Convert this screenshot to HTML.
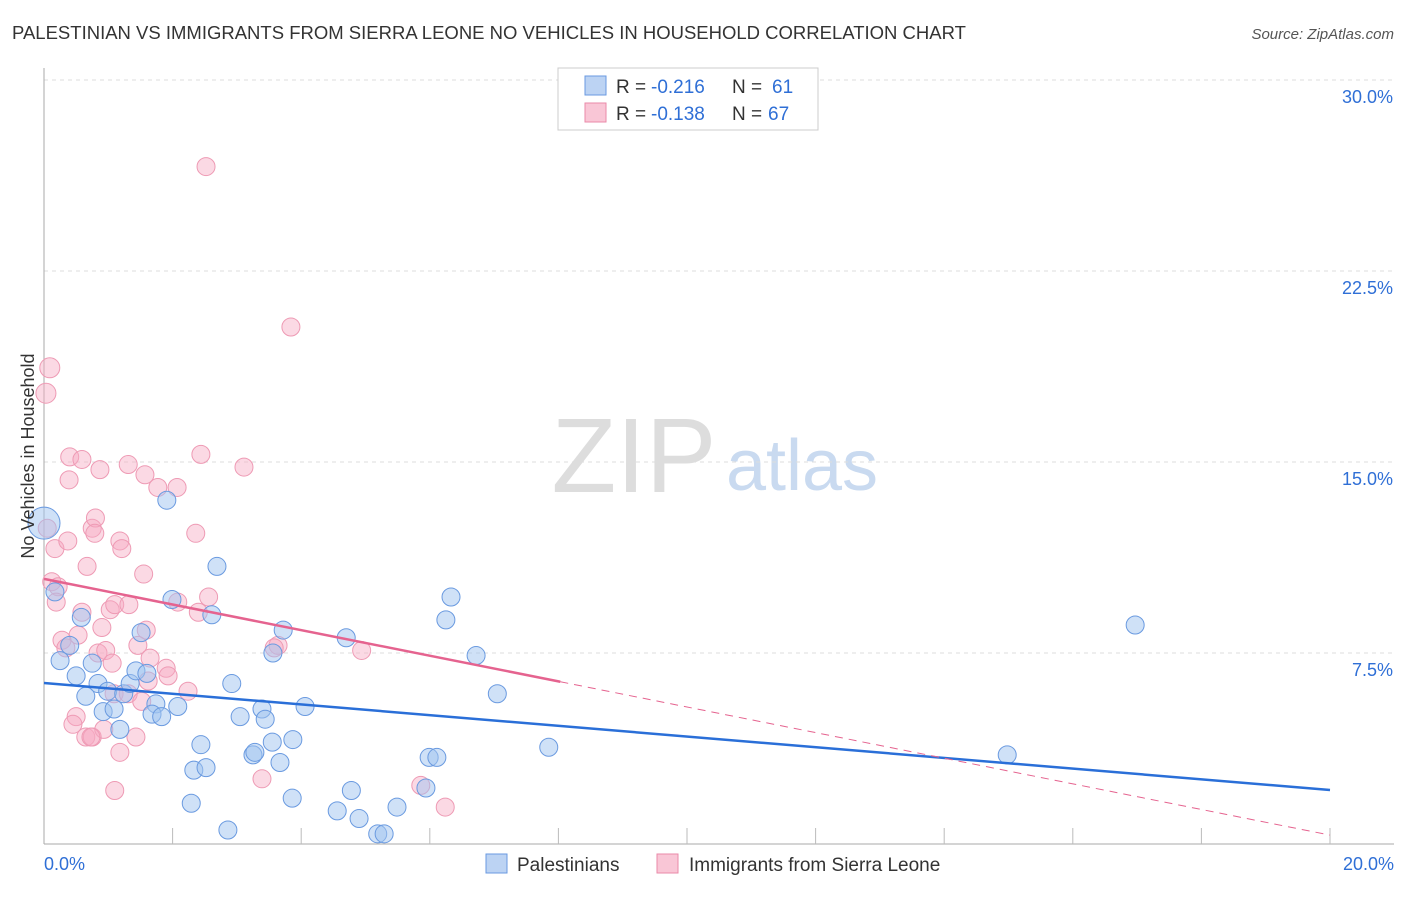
<!DOCTYPE html>
<html><head><meta charset="utf-8"><style>
body{margin:0;background:#fff;font-family:"Liberation Sans",sans-serif}
svg text{font-family:"Liberation Sans",sans-serif}
</style></head><body>
<svg id="chart" width="1406" height="892" xmlns="http://www.w3.org/2000/svg">
<text x="12" y="39" font-size="18.5" fill="#333">PALESTINIAN VS IMMIGRANTS FROM SIERRA LEONE NO VEHICLES IN HOUSEHOLD CORRELATION CHART</text>
<text x="1394" y="39" font-size="15" fill="#555" font-style="italic" text-anchor="end">Source: ZipAtlas.com</text>
<g>
<text x="634" y="492" font-size="106" fill="#ddd" font-family="Liberation Serif,serif" text-anchor="middle">ZIP</text>
<text x="802" y="490" font-size="72" fill="#c9daf0" text-anchor="middle">atlas</text>
</g>
<g id="grid"></g>
<g id="axes"></g>
<g id="marks"></g>
<text transform="translate(34,456) rotate(-90)" font-size="18" fill="#333" text-anchor="middle">No Vehicles in Household</text>
<g>
<rect x="558" y="68" width="260" height="62" fill="#fff" stroke="#ccc"/>
<rect x="585" y="76" width="21" height="19" fill="#bcd3f3" stroke="#6a9ae0"/>
<rect x="585" y="103" width="21" height="19" fill="#f9c6d6" stroke="#ea8aa8"/>
<text y="93" font-size="19" fill="#333"><tspan x="616">R =</tspan><tspan x="651" fill="#2f6fd6">-0.216</tspan><tspan x="732">N =</tspan><tspan x="772" fill="#2f6fd6">61</tspan></text>
<text y="120" font-size="19" fill="#333"><tspan x="616">R =</tspan><tspan x="651" fill="#2f6fd6">-0.138</tspan><tspan x="732">N =</tspan><tspan x="768" fill="#2f6fd6">67</tspan></text>
</g>
<g>
<rect x="486" y="854" width="21" height="19" fill="#bcd3f3" stroke="#6a9ae0"/>
<text x="517" y="871" font-size="19" fill="#333">Palestinians</text>
<rect x="657" y="854" width="21" height="19" fill="#f9c6d6" stroke="#ea8aa8"/>
<text x="689" y="871" font-size="19" fill="#333">Immigrants from Sierra Leone</text>
</g>
</svg>
<script>
const yTicks=[7.5,15,22.5,30];
const yTickLabels=["7.5%","15.0%","22.5%","30.0%"];
const xTickLabels=["0.0%","20.0%"];
const bluePts=[[0,12.6],[0.17,9.9],[0.58,8.9],[0.25,7.2],[0.4,7.8],[0.75,7.1],[0.5,6.6],[0.84,6.3],[0.65,5.8],[0.99,6.0],[0.92,5.2],[1.09,5.3],[1.18,4.5],[1.24,5.9],[1.34,6.3],[1.43,6.8],[1.51,8.3],[1.6,6.7],[1.74,5.5],[1.68,5.1],[1.83,5.0],[2.08,5.4],[1.91,13.5],[1.99,9.6],[2.61,9.0],[2.69,10.9],[2.92,6.3],[3.05,5.0],[2.44,3.9],[2.33,2.9],[2.52,3.0],[2.29,1.6],[2.86,0.55],[3.25,3.5],[3.28,3.6],[3.39,5.3],[3.44,4.9],[3.55,4.0],[3.67,3.2],[3.72,8.4],[3.87,4.1],[3.86,1.8],[3.56,7.5],[4.06,5.4],[4.7,8.1],[4.56,1.3],[4.78,2.1],[4.9,1.0],[5.19,0.4],[5.29,0.4],[5.49,1.45],[5.99,3.4],[6.11,3.4],[5.94,2.2],[6.25,8.8],[6.33,9.7],[6.72,7.4],[7.05,5.9],[7.85,3.8],[14.98,3.5],[16.97,8.6]];
const pinkPts=[[2.52,26.6],[3.84,20.3],[0.09,18.7],[0.03,17.7],[0.05,12.4],[0.4,15.2],[0.59,15.1],[0.39,14.3],[0.87,14.7],[1.31,14.9],[1.57,14.5],[1.77,14.0],[2.07,14.0],[2.44,15.3],[3.11,14.8],[0.17,11.6],[0.37,11.9],[0.67,10.9],[0.75,12.4],[0.8,12.8],[0.79,12.2],[1.18,11.9],[1.21,11.6],[1.55,10.6],[2.36,12.2],[0.12,10.3],[0.22,10.1],[0.19,9.5],[0.59,9.1],[0.53,8.2],[0.28,8.0],[0.34,7.7],[0.9,8.5],[1.03,9.2],[1.1,9.4],[1.32,9.4],[1.59,8.4],[1.46,7.8],[0.84,7.5],[0.96,7.6],[1.06,7.1],[1.65,7.3],[1.9,6.9],[1.93,6.6],[1.62,6.4],[2.24,6.0],[2.08,9.5],[2.4,9.1],[2.56,9.7],[3.64,7.8],[4.94,7.6],[1.09,5.9],[1.31,5.9],[1.52,5.6],[0.5,5.0],[0.45,4.7],[0.65,4.2],[0.75,4.2],[0.93,4.5],[0.73,4.2],[1.43,4.2],[1.18,3.6],[1.1,2.1],[3.39,2.56],[5.86,2.3],[6.24,1.45],[3.58,7.7]];
const blueLine=[6.32,2.12];
const pinkLine=[10.41,0.35];
const pinkSolidEnd=8.03;
const X=v=>44+v/20*1286, Y=v=>844-v/7.5*191;
const NS="http://www.w3.org/2000/svg";
function mk(p,tag,a){const e=document.createElementNS(NS,tag);for(const k in a)e.setAttribute(k,a[k]);p.appendChild(e);return e;}
const grid=document.getElementById('grid'),axes=document.getElementById('axes'),marks=document.getElementById('marks');
yTicks.forEach((t,i)=>{
 const l=mk(grid,'line',{x1:44,x2:1394,y1:Y(t),y2:Y(t),stroke:'#ddd','stroke-dasharray':'4,4'});
 
 
 const tx=mk(axes,'text',{x:1393,y:Y(t)+23,'font-size':18,fill:'#2f6fd6','text-anchor':'end'});
 tx.textContent=yTickLabels[i];
 
 
});
let a=mk(axes,'line',{x1:44,x2:44,y1:68,y2:844,stroke:'#aaa'});

a=mk(axes,'line',{x1:44,x2:1394,y1:844,y2:844,stroke:'#aaa'});

for(let i=1;i<=10;i++){const t=mk(axes,'line',{x1:X(i*2),x2:X(i*2),y1:828,y2:844,stroke:'#bbb'});
 
 }
[[0,44,'start'],[20,1394,'end']].forEach((d,i)=>{const t=mk(axes,'text',{x:d[1],y:870,'font-size':18,fill:'#2f6fd6','text-anchor':d[2]});t.textContent=xTickLabels[i];
 
 });
pinkPts.forEach(p=>{const c=mk(marks,'circle',{cx:X(p[0]),cy:Y(p[1]),r:(p[0]<0.1&&p[1]>17)?10:9,fill:'rgba(246,170,195,0.45)',stroke:'#ee9ab4','stroke-width':1});
 
 });
bluePts.forEach((p,i)=>{const c=mk(marks,'circle',{cx:X(p[0]),cy:Y(p[1]),r:i==0?16:9,fill:'rgba(160,195,240,0.5)',stroke:'#6a9ae0','stroke-width':1});
 
 });
const py=x=>pinkLine[0]+(pinkLine[1]-pinkLine[0])*x/20, by=x=>blueLine[0]+(blueLine[1]-blueLine[0])*x/20;
let l=mk(marks,'line',{x1:X(0),y1:Y(by(0)),x2:X(20),y2:Y(by(20)),stroke:'#2a6fd8','stroke-width':2.5});

l=mk(marks,'line',{x1:X(0),y1:Y(py(0)),x2:X(pinkSolidEnd),y2:Y(py(pinkSolidEnd)),stroke:'#e5638f','stroke-width':2.5});

l=mk(marks,'line',{x1:X(pinkSolidEnd),y1:Y(py(pinkSolidEnd)),x2:X(20),y2:Y(py(20)),stroke:'#e5638f','stroke-width':1,'stroke-dasharray':'8,6'});

</script>
</body></html>
